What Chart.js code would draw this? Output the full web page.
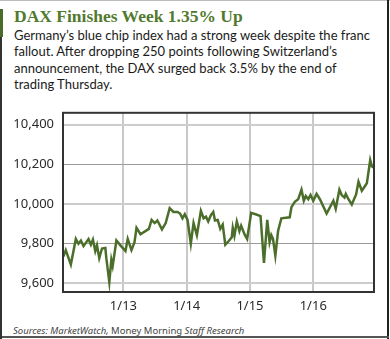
<!DOCTYPE html>
<html lang="en">
<head>
<meta charset="UTF-8">
<title>DAX Finishes Week 1.35% Up</title>
<style>
    body { margin: 0; background: #fff; }
    #quadro { position: relative; width: 390px; height: 339px; background: #fff; overflow: hidden; }
    .linha { position: absolute; }
    #titulo { position: absolute; left: 14px; top: 6px; font: bold 17.5px "Liberation Serif", serif; color: #527a2e; white-space: nowrap; }
    #texto { position: absolute; left: 14px; top: 27px; font: 14px Lato, sans-serif; line-height: 16.3px; color: #1a1a1a; white-space: nowrap; }
    #fonte { position: absolute; left: 13px; top: 324px; font: 9.5px "Noto Sans", sans-serif; color: #444; white-space: nowrap; }
    #grafico { position: absolute; left: 0; top: 96px; }
</style>
</head>
<body>
<div id="quadro">
    <div class="linha" style="left:0;top:0;width:390px;height:1px;background:#bbb"></div>
    <div class="linha" style="left:387px;top:0;width:2px;height:339px;background:#222"></div>
    <div class="linha" style="left:0;top:336px;width:389px;height:2px;background:#555"></div>
    <div class="linha" style="left:0;top:9px;width:2px;height:330px;background:#333"></div>
    <div class="linha" style="left:0;top:9px;width:3px;height:28px;background:#4a6b2a"></div>

    <div id="titulo">DAX Finishes Week 1.35% Up</div>
    <div id="texto"><span id="linha1">Germany’s blue chip index had a strong week despite the franc</span><br>fallout. After dropping 250 points following Switzerland’s<br>announcement, the DAX surged back 3.5% by the end of<br>trading Thursday.</div>

    <canvas id="grafico" width="390" height="222"></canvas>

    <div id="fonte"><i>Sources: MarketWatch,</i> Money Morning <i>Staff Research</i></div>
</div>

<script src="https://cdn.jsdelivr.net/npm/chart.js"></script>
<script>
    // posição em dias (1 = 1/13) e valor do índice
    const dias = [0.051, 0.089, 0.169, 0.248, 0.289, 0.328, 0.369, 0.448, 0.486, 0.518,
        0.555, 0.582, 0.618, 0.661, 0.714, 0.730, 0.777, 0.809, 0.830, 0.889,
        0.963, 1.032, 1.068, 1.127, 1.175, 1.207, 1.270, 1.402, 1.445, 1.493,
        1.536, 1.609, 1.668, 1.731, 1.790, 1.854, 1.895, 1.933, 1.970, 2.013,
        2.065, 2.108, 2.161, 2.224, 2.267, 2.304, 2.340, 2.383, 2.420, 2.447,
        2.490, 2.531, 2.569, 2.610, 2.658, 2.712, 2.728, 2.754, 2.792, 2.833,
        2.860, 2.913, 2.955, 3.019, 3.099, 3.167, 3.221, 3.273, 3.310, 3.337,
        3.364, 3.401, 3.444, 3.496, 3.628, 3.655, 3.708, 3.762, 3.814, 3.851,
        3.882, 3.921, 3.957, 4.000, 4.052, 4.105, 4.211, 4.318, 4.355, 4.413,
        4.450, 4.493, 4.514, 4.556, 4.609, 4.677, 4.715, 4.768, 4.847, 4.900,
        4.927, 4.954];

    const dax = [9736, 9768, 9695, 9824, 9800, 9816, 9788, 9824, 9795, 9821,
        9763, 9792, 9727, 9776, 9779, 9727, 9607, 9719, 9688, 9816,
        9788, 9763, 9824, 9768, 9808, 9880, 9848, 9875, 9920, 9904,
        9917, 9872, 9904, 9979, 9960, 9960, 9952, 9928, 9949, 9920,
        9800, 9904, 9843, 9965, 9928, 9936, 9912, 9944, 9960, 9917,
        9920, 9875, 9896, 9795, 9811, 9832, 9880, 9840, 9912, 9864,
        9891, 9848, 9824, 9955, 9947, 9939, 9703, 9920, 9808, 9843,
        9824, 9740, 9864, 9928, 9933, 9984, 10011, 10024, 10072, 10016,
        10040, 10024, 10045, 10016, 10051, 10024, 9952, 10016, 9976, 10072,
        10045, 10032, 10051, 10024, 9997, 10048, 10112, 10067, 10104, 10221,
        10189, 10184];

    const diasTicks = [1, 2, 3, 4];
    const diasLabels = ['1/13', '1/14', '1/15', '1/16'];
    const valoresTicks = [9600, 9800, 10000, 10200, 10400];

    // ajusta o tamanho do texto para a primeira linha caber em 356px
    let linha1 = document.getElementById('linha1');
    let texto = document.getElementById('texto');
    texto.style.fontSize = (14 * 356 / linha1.getBoundingClientRect().width) + 'px';

    let pontos = [];
    for (let i = 0; i < dias.length; i++) {
        pontos.push({ x: dias[i], y: dax[i] });
    }

    const bordaPlot = {
        id: 'bordaPlot',
        afterDraw(chart) {
            const a = chart.chartArea;
            const ctx = chart.ctx;
            ctx.save();
            ctx.strokeStyle = '#333';
            ctx.lineWidth = 2;
            ctx.strokeRect(a.left, a.top, a.right - a.left, a.bottom - a.top);
            ctx.restore();
        }
    };

    new Chart(document.getElementById('grafico'), {
        type: 'line',
        data: {
            datasets: [{
                data: pontos,
                borderColor: '#4b6e2b',
                borderWidth: 2.5,
                pointRadius: 0,
                tension: 0
            }]
        },
        options: {
            responsive: false,
            animation: false,
            devicePixelRatio: 1,
            layout: { padding: { top: 8, right: 16, left: 0, bottom: 0 } },
            plugins: { legend: { display: false }, tooltip: { enabled: false } },
            scales: {
                x: {
                    type: 'linear',
                    min: 0.045,
                    max: 4.96,
                    afterBuildTicks: (s) => { s.ticks = diasTicks.map(v => ({ value: v })); },
                    afterFit: (s) => { s.height = 26; },
                    border: { display: false },
                    grid: { color: '#c8c8c8', lineWidth: 2, drawTicks: false },
                    ticks: {
                        padding: 6,
                        color: '#2a2a2a',
                        font: { family: 'Noto Sans', size: 13 },
                        callback: (v) => diasLabels[diasTicks.indexOf(v)]
                    }
                },
                y: {
                    min: 9557,
                    max: 10459,
                    afterBuildTicks: (s) => { s.ticks = valoresTicks.map(v => ({ value: v })); },
                    afterFit: (s) => { s.width = 63; },
                    border: { display: false },
                    grid: {
                        drawTicks: false,
                        color: (c) => (c.tick && c.tick.value % 400 == 0) ? '#cccccc' : '#9a9a9a',
                        lineWidth: (c) => (c.tick && c.tick.value % 400 == 0) ? 2 : 1
                    },
                    ticks: {
                        padding: 9,
                        color: '#2a2a2a',
                        font: { family: 'Noto Sans', size: 13 },
                        callback: (v) => v.toLocaleString('en-US')
                    }
                }
            }
        },
        plugins: [bordaPlot]
    });
</script>
</body>
</html>
